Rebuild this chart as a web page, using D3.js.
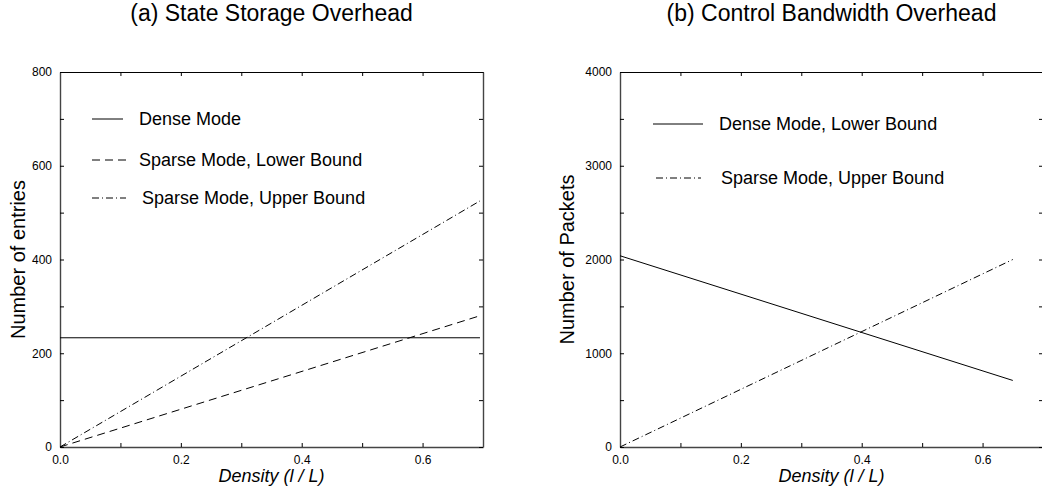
<!DOCTYPE html>
<html>
<head>
<meta charset="utf-8">
<script src="https://cdn.jsdelivr.net/npm/d3@7"></script>
<style>
  html, body { margin: 0; padding: 0; background: #fff; }
  svg { display: block; font-family: "Liberation Sans", Arial, sans-serif; }
</style>
</head>
<body>
<div class="chart"></div>
<script>
'use strict';

const densityTicks = [0, 0.1, 0.2, 0.3, 0.4, 0.5, 0.6, 0.7];

// (a) state storage, number of entries
const storageDensity = [0, 0.695];
const entryTicks = [0, 100, 200, 300, 400, 500, 600, 700, 800];
const denseEntries = [233, 233];
const sparseLowerEntries = [0, 280];
const sparseUpperEntries = [0, 525];

// (b) control bandwidth, number of packets
const bandwidthDensity = [0, 0.65];
const packetTicks = [0, 500, 1000, 1500, 2000, 2500, 3000, 3500, 4000];
const denseLowerPackets = [2040, 710];
const sparseUpperPackets = [0, 2000];

const dashed = "8,5";
const dashDot = "7,3,1,3";

document.addEventListener('DOMContentLoaded', () => {

  const W = 1042, H = 495;
  const svg = d3.select(".chart")
    .append("svg")
    .attr("width", W)
    .attr("height", H);

  svg.append("rect").attr("width", W).attr("height", H).attr("fill", "#fff");

  function panel(opt) {
    const x = d3.scaleLinear().domain([0, 0.7]).range([opt.left, opt.right]);
    const y = d3.scaleLinear().domain(opt.yDomain).range([447, 72]);
    const g = svg.append("g");

    // axes, ticks pointing inward
    const xAxis = d3.axisBottom(x).tickValues(densityTicks)
      .tickSizeInner(-4).tickSizeOuter(0).tickPadding(8)
      .tickFormat((d, i) => i % 2 === 0 ? d.toFixed(1) : "");
    const xTop = d3.axisTop(x).tickValues(densityTicks)
      .tickSizeInner(-4).tickSizeOuter(0).tickFormat("");
    const yAxis = d3.axisLeft(y).tickValues(opt.yTicks)
      .tickSizeInner(-4).tickSizeOuter(0).tickPadding(8)
      .tickFormat((d, i) => i % 2 === 0 ? d : "");
    const yRight = d3.axisRight(y).tickValues(opt.yTicks)
      .tickSizeInner(-4).tickSizeOuter(0).tickFormat("");

    const axes = [
      g.append("g").attr("transform", "translate(0,447)").call(xAxis),
      g.append("g").attr("transform", "translate(0,72)").call(xTop),
      g.append("g").attr("transform", `translate(${opt.left},0)`).call(yAxis),
      g.append("g").attr("transform", `translate(${opt.right},0)`).call(yRight)
    ];
    axes.forEach(a => {
      a.select(".domain").attr("stroke", "#444").attr("stroke-width", 1.4);
      a.selectAll(".tick line").attr("stroke", "#000");
      a.selectAll(".tick text").attr("font-size", 12).attr("fill", "#000")
        .attr("font-family", "Liberation Sans, Arial, sans-serif");
    });
    axes[1].select(".domain").attr("stroke", "#000").attr("stroke-width", 1.2);

    // titles and labels
    const cx = (opt.left + opt.right) / 2;
    g.append("text")
      .attr("x", cx).attr("y", 21)
      .attr("text-anchor", "middle")
      .style("font-size", "23px")
      .text(opt.title);
    g.append("text")
      .attr("x", cx).attr("y", 482)
      .attr("text-anchor", "middle")
      .style("font-size", "18px")
      .style("font-style", "italic")
      .text("Density (l / L)");
    g.append("text")
      .attr("transform", `translate(${opt.yLabelX},259.5) rotate(-90)`)
      .attr("text-anchor", "middle")
      .style("font-size", "20px")
      .text(opt.yLabel);

    // series
    const line = d3.line().x((d, i) => x(opt.xs[i])).y(d => y(d));
    opt.series.forEach(s => {
      g.append("path")
        .attr("d", line(s.values))
        .attr("fill", "none")
        .attr("stroke", "#000")
        .attr("stroke-width", 1)
        .attr("stroke-dasharray", s.dash);
    });

    // legend
    opt.series.forEach(s => {
      const l = s.legend;
      g.append("line")
        .attr("x1", l.x1).attr("x2", l.x2)
        .attr("y1", l.y).attr("y2", l.y)
        .attr("stroke", "#000")
        .attr("stroke-width", 1)
        .attr("stroke-dasharray", s.dash);
      g.append("text")
        .attr("x", l.tx).attr("y", l.y + 6)
        .style("font-size", "18px")
        .text(s.name);
    });
  }

  panel({
    left: 60, right: 483, xs: storageDensity,
    yDomain: [0, 800], yTicks: entryTicks,
    title: "(a) State Storage Overhead",
    yLabel: "Number of entries", yLabelX: 25,
    series: [
      {name: "Dense Mode", values: denseEntries, dash: null,
        legend: {x1: 92, x2: 123, y: 119, tx: 139}},
      {name: "Sparse Mode, Lower Bound", values: sparseLowerEntries, dash: dashed,
        legend: {x1: 92, x2: 126, y: 160, tx: 139}},
      {name: "Sparse Mode, Upper Bound", values: sparseUpperEntries, dash: dashDot,
        legend: {x1: 92, x2: 126, y: 198, tx: 142}}
    ]
  });

  panel({
    left: 620, right: 1043, xs: bandwidthDensity,
    yDomain: [0, 4000], yTicks: packetTicks,
    title: "(b) Control Bandwidth Overhead",
    yLabel: "Number of Packets", yLabelX: 574,
    series: [
      {name: "Dense Mode, Lower Bound", values: denseLowerPackets, dash: null,
        legend: {x1: 653, x2: 703, y: 124, tx: 719}},
      {name: "Sparse Mode, Upper Bound", values: sparseUpperPackets, dash: dashDot,
        legend: {x1: 656, x2: 701, y: 178, tx: 721}}
    ]
  });

});
</script>
</body>
</html>
